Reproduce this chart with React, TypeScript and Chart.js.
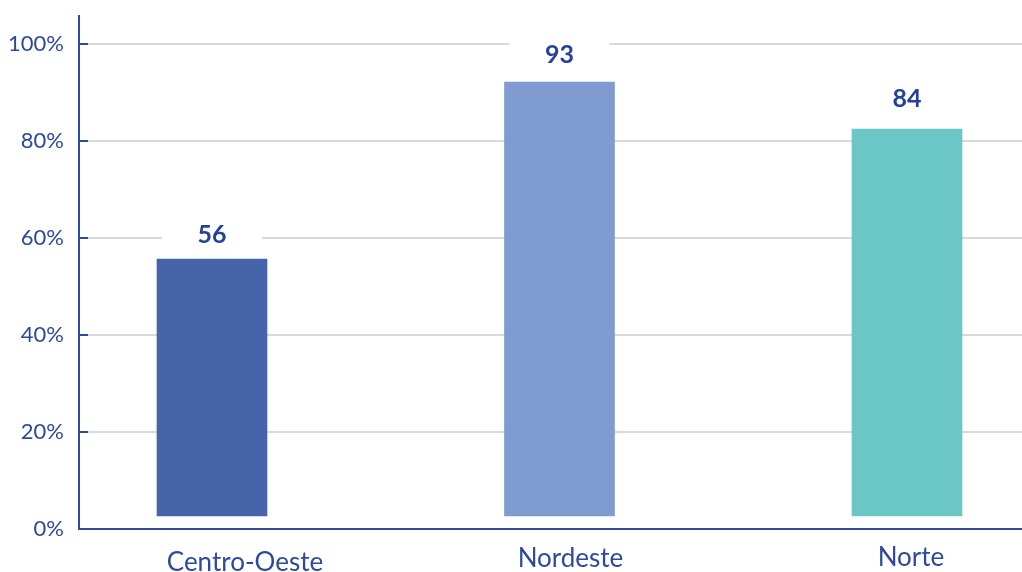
import React, { useEffect, useRef } from "react";
import { Chart, registerables } from "chart.js";

Chart.register(...registerables);

const categories = ["Centro-Oeste", "Nordeste", "Norte"];
const barTops = [55.6, 92.1, 82.4];
const barBase = 2.7;
const valueLabels = [56, 93, 84];
const barColors = ["#4664AA", "#809BD0", "#6AC7C6"];
const yTicks = [0, 20, 40, 60, 80, 100];

const BLUE = "#2E4A9B";
const LABEL_BLUE = "#25419A";
const FONT = "Lato, 'Noto Sans', sans-serif";

// purely visual nudges of the category texts (pixels)
const catDx = [33, 11, 4];
const catBaseline = [42, 38, 37];

const decorPlugin = {
  id: "decor",
  afterDraw(chart: any) {
    const { ctx, chartArea } = chart;
    const x = chart.scales.x;
    const y = chart.scales.y;
    ctx.save();
    // inward ticks on y axis
    ctx.strokeStyle = BLUE;
    ctx.lineWidth = 2;
    yTicks.forEach((v) => {
      if (v === 0) return;
      const py = Math.round(y.getPixelForValue(v));
      ctx.beginPath();
      ctx.moveTo(chartArea.left, py);
      ctx.lineTo(chartArea.left + 9, py);
      ctx.stroke();
    });
    // value labels with white boxes
    valueLabels.forEach((v, i) => {
      const px = x.getPixelForValue(i);
      const py = y.getPixelForValue(v + 4.6);
      ctx.fillStyle = "#ffffff";
      ctx.fillRect(px - 50, py - 19, 100, 38);
      ctx.fillStyle = LABEL_BLUE;
      ctx.font = `bold 25px ${FONT}`;
      ctx.textAlign = "center";
      ctx.textBaseline = "middle";
      ctx.fillText(String(v), px, py);
    });
    // category labels
    categories.forEach((c, i) => {
      const px = x.getPixelForValue(i) + catDx[i];
      ctx.fillStyle = BLUE;
      ctx.font = `26px ${FONT}`;
      ctx.textAlign = "center";
      ctx.textBaseline = "alphabetic";
      ctx.fillText(c, px, chartArea.bottom + catBaseline[i]);
    });
    ctx.restore();
  },
};

export default function App() {
  const ref = useRef<HTMLCanvasElement | null>(null);
  useEffect(() => {
    if (!ref.current) return;
    const chart = new Chart(ref.current, {
      type: "bar",
      data: {
        datasets: [
          {
            data: categories.map((_, i) => ({ x: i, y: [barBase, barTops[i]] })) as any,
            backgroundColor: barColors,
            barThickness: 110,
            borderSkipped: false,
          },
        ],
      },
      options: {
        animation: false,
        responsive: true,
        maintainAspectRatio: false,
        layout: { padding: { top: 16, right: 0, left: 0, bottom: 0 } },
        plugins: { legend: { display: false }, tooltip: { enabled: false } },
        scales: {
          x: {
            type: "linear",
            offset: false,
            min: -0.3827,
            max: 2.331,
            grid: { display: false, drawTicks: false },
            border: { display: true, color: BLUE, width: 2 },
            ticks: { display: false },
            afterFit(scale: any) {
              scale.height = 43;
              scale.paddingLeft = 0;
              scale.paddingRight = 0;
            },
          },
          y: {
            min: 0,
            max: 105.7,
            afterBuildTicks(scale: any) {
              scale.ticks = yTicks.map((v) => ({ value: v }));
            },
            grid: { color: "#D9D9D9", lineWidth: 2, drawTicks: false },
            border: { display: true, color: BLUE, width: 2 },
            ticks: {
              padding: 15,
              color: BLUE,
              font: { family: FONT, size: 22 },
              callback: (v: any) => `${v}%`,
            },
            afterFit(scale: any) {
              scale.width = 79;
              scale.paddingTop = 0;
              scale.paddingBottom = 0;
            },
          },
        },
      },
      plugins: [decorPlugin],
    });
    return () => chart.destroy();
  }, []);
  return (
    <div style={{ position: "fixed", left: 0, top: 0, width: 1022, height: 572, background: "#fff" }}>
      <canvas ref={ref} />
    </div>
  );
}
